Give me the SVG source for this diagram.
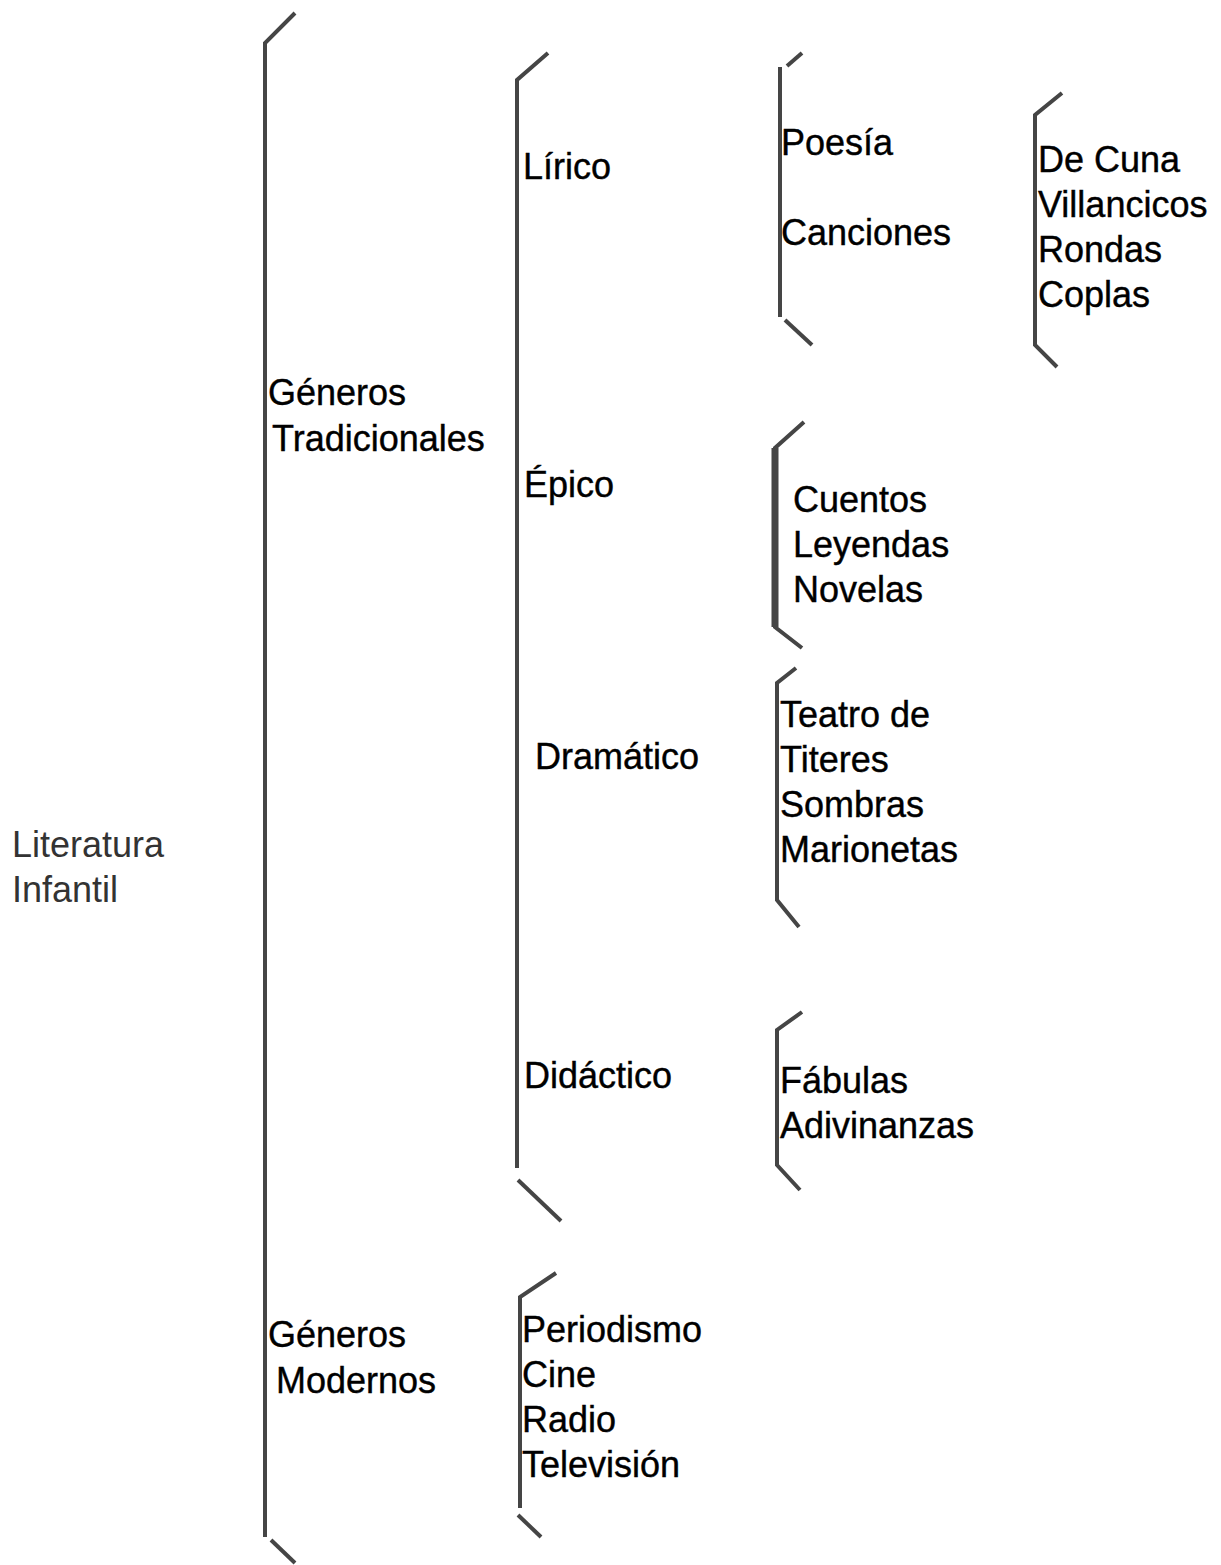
<svg xmlns="http://www.w3.org/2000/svg" width="1221" height="1565" viewBox="0 0 1221 1565">
<style>
.t{font-family:"Liberation Sans",Arial,sans-serif;font-size:36px;fill:#000;stroke:#000;stroke-width:0.4}
.lt{fill:#333;stroke:none}
.b{fill:none;stroke:#454545;stroke-width:4;stroke-linecap:butt;stroke-linejoin:miter}
</style>
<rect width="1221" height="1565" fill="#fff"/>
<g id="connectors">
<path class="b" d="M295,13 L265,43 L265,1537"/>
<path class="b" d="M271,1540 L295,1563"/>
<path class="b" d="M548,53 L517,80 L517,1168"/>
<path class="b" d="M518,1180 L561,1221"/>
<path class="b" d="M556,1273 L520,1297 L520,1508"/>
<path class="b" d="M518,1515 L541,1537"/>
<path class="b" d="M780,67 L780,317"/>
<path class="b" d="M787,66 L802,53"/>
<path class="b" d="M785,320 L812,345"/>
<path class="b" d="M1062,93 L1035,115 L1035,345 L1057,367"/>
<path class="b" d="M804,422 L775,448 L775,627 L802,648"/>
<path class="b" d="M775,448 L775,627" style="stroke-width:7"/>
<path class="b" d="M796,668 L777,683 L777,900 L799,927"/>
<path class="b" d="M802,1012 L777,1030 L777,1165 L800,1190"/>
</g>
<g id="n-literatura"><text class="t lt" x="12" y="857">Literatura</text><text class="t lt" x="12" y="902">Infantil</text></g>
<g id="n-tradicionales"><text class="t" x="268" y="405">Géneros</text><text class="t" x="272" y="451">Tradicionales</text></g>
<g id="n-modernos"><text class="t" x="268" y="1347">Géneros</text><text class="t" x="276" y="1393">Modernos</text></g>
<g id="n-lirico"><text class="t" x="523" y="179">Lírico</text></g>
<g id="n-epico"><text class="t" x="524" y="497">Épico</text></g>
<g id="n-dramatico"><text class="t" x="535" y="769">Dramático</text></g>
<g id="n-didactico"><text class="t" x="524" y="1088">Didáctico</text></g>
<g id="n-poesia"><text class="t" x="781" y="155">Poesía</text></g>
<g id="n-canciones"><text class="t" x="781" y="245">Canciones</text></g>
<g id="n-tipos-canciones">
<text class="t" x="1038" y="172">De Cuna</text>
<text class="t" x="1038" y="217">Villancicos</text>
<text class="t" x="1038" y="262">Rondas</text>
<text class="t" x="1038" y="307">Coplas</text>
</g>
<g id="n-epico-items">
<text class="t" x="793" y="512">Cuentos</text>
<text class="t" x="793" y="557">Leyendas</text>
<text class="t" x="793" y="602">Novelas</text>
</g>
<g id="n-dramatico-items">
<text class="t" x="780" y="727">Teatro de</text>
<text class="t" x="780" y="772">Titeres</text>
<text class="t" x="780" y="817">Sombras</text>
<text class="t" x="780" y="862">Marionetas</text>
</g>
<g id="n-didactico-items">
<text class="t" x="780" y="1093">Fábulas</text>
<text class="t" x="780" y="1138">Adivinanzas</text>
</g>
<g id="n-modernos-items">
<text class="t" x="522" y="1342">Periodismo</text>
<text class="t" x="522" y="1387">Cine</text>
<text class="t" x="522" y="1432">Radio</text>
<text class="t" x="522" y="1477">Televisión</text>
</g>
</svg>
